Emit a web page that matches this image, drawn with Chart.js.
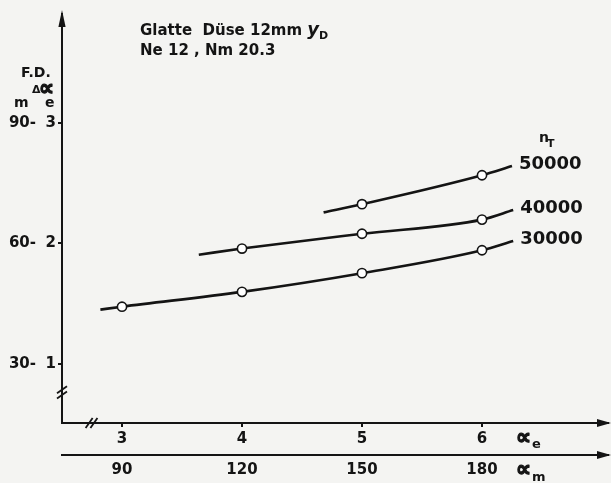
<!DOCTYPE html>
<html>
<head>
<meta charset="utf-8">
<script src="https://cdn.jsdelivr.net/npm/chart.js@4/dist/chart.umd.min.js"></script>
<style>
  html, body { margin: 0; padding: 0; background: #f4f4f2; }
  #wrap { width: 611px; height: 483px; }
</style>
</head>
<body>
<div id="wrap"><canvas id="c" width="611" height="483"></canvas></div>
<script>
// Tick values: α_e and α_m (= 30·α_e) horizontally, Δα_e and F.D. (= 30·Δα_e) vertically
const ticksAlphaE = [3, 4, 5, 6];
const ticksAlphaM = [90, 120, 150, 180];
const ticksDeltaE = [1, 2, 3];
const ticksFD = [30, 60, 90];

// Spindle speeds n_T
const speeds = ['30000', '40000', '50000'];

// Curve points (α_e, Δα_e); circles mark the measured α_e values 3…6
const alpha30 = [2.82, 3, 4, 5, 6, 6.26];
const delta30 = [1.45, 1.474, 1.597, 1.752, 1.942, 2.019];
const alpha40 = [3.64, 4, 5, 6, 6.26];
const delta40 = [1.905, 1.956, 2.079, 2.196, 2.275];
const alpha50 = [4.68, 5, 6, 6.25];
const delta50 = [2.256, 2.324, 2.564, 2.64];

const INK = '#141414';
const FONT = 'DejaVu Sans';

function pts(xs, ys) { return xs.map((x, i) => ({ x: x, y: ys[i] })); }

function curve(label, xs, ys) {
  return {
    label: label,
    data: pts(xs, ys),
    showLine: true,
    borderColor: INK,
    borderWidth: 2.6,
    cubicInterpolationMode: 'monotone',
    pointRadius: ctx => ticksAlphaE.includes(ctx.raw && ctx.raw.x) ? 4.6 : 0,
    pointBackgroundColor: '#ffffff',
    pointBorderColor: INK,
    pointBorderWidth: 1.6,
    pointHoverRadius: 0
  };
}

const tickFont = { family: FONT, weight: 'bold', size: 15 };

const paper = {
  id: 'paper',
  beforeDraw(chart) {
    const ctx = chart.ctx;
    ctx.save();
    ctx.fillStyle = '#f4f4f2';
    ctx.fillRect(0, 0, chart.width, chart.height);
    ctx.restore();
  }
};

// Axis arrows, axis breaks and all free text
const annotate = {
  id: 'annotate',
  afterDraw(chart) {
    const ctx = chart.ctx;
    const a = chart.chartArea;
    const sx = chart.scales.x, sm = chart.scales.xm, sy = chart.scales.y;
    ctx.save();
    ctx.fillStyle = INK;
    ctx.strokeStyle = INK;

    function tri(p1, p2, p3) {
      ctx.beginPath();
      ctx.moveTo(p1[0], p1[1]); ctx.lineTo(p2[0], p2[1]); ctx.lineTo(p3[0], p3[1]);
      ctx.closePath(); ctx.fill();
    }
    // arrow heads
    tri([a.left, a.top - 4], [a.left - 3.6, a.top + 13], [a.left + 3.6, a.top + 13]);
    tri([a.right + 3, a.bottom], [a.right - 11, a.bottom - 4], [a.right - 11, a.bottom + 4]);
    tri([a.right + 3, sm.top], [a.right - 11, sm.top - 4], [a.right - 11, sm.top + 4]);

    // axis breaks
    ctx.lineWidth = 1.8;
    const yb = sy.getPixelForValue(0.763);
    [-2.6, 2.6].forEach(d => {
      ctx.beginPath();
      ctx.moveTo(a.left - 5, yb + d + 3.5);
      ctx.lineTo(a.left + 5, yb + d - 3.5);
      ctx.stroke();
    });
    const xb = sx.getPixelForValue(2.746);
    [-2.4, 2.4].forEach(d => {
      ctx.beginPath();
      ctx.moveTo(xb + d - 3.5, a.bottom + 5);
      ctx.lineTo(xb + d + 3.5, a.bottom - 5);
      ctx.stroke();
    });

    function txt(s, x, y, size, style) {
      ctx.font = (style || 'bold') + ' ' + size + 'px "' + FONT + '"';
      ctx.textAlign = 'left';
      ctx.textBaseline = 'alphabetic';
      ctx.fillText(s, x, y);
      return ctx.measureText(s).width;
    }
    // the alpha sign, drawn heavier than the font gives it
    function alpha(x, y) {
      ctx.font = 'bold 21px "' + FONT + '"';
      ctx.textAlign = 'left';
      ctx.textBaseline = 'alphabetic';
      ctx.lineWidth = 1.3;
      ctx.lineJoin = 'round';
      ctx.strokeText('∝', x, y);
      ctx.fillText('∝', x, y);
    }

    // heading
    let w = txt('Glatte  Düse 12mm ', 140, 35, 15);
    w += txt('y', 140 + w, 35, 18, 'italic bold');
    txt('D', 140 + w, 39, 11);
    txt('Ne 12 , Nm 20.3', 140, 55, 15);

    // vertical axis titles
    txt('F.D.', 21, 77, 14);
    txt('Δ', 32, 93, 11);
    alpha(39, 95);
    txt('m', 14, 107, 14);
    txt('e', 45, 107, 14);

    // horizontal axis titles
    const xt = sx.getPixelForValue(6) + 34;
    alpha(xt, 444);
    txt('e', xt + 16, 448, 13);
    alpha(xt, 476);
    txt('m', xt + 16, 481, 13);

    // speed labels at the curve ends
    chart.data.datasets.forEach((ds, i) => {
      const meta = chart.getDatasetMeta(i);
      const last = meta.data[meta.data.length - 1];
      txt(ds.label, last.x + 7, last.y + 3, 18);
    });
    const top = chart.getDatasetMeta(2).data;
    const e = top[top.length - 1];
    txt('n', e.x + 27, e.y - 24, 14);
    txt('T', e.x + 35, e.y - 19, 11);

    ctx.restore();
  }
};

new Chart(document.getElementById('c'), {
  type: 'scatter',
  data: {
    datasets: [
      curve(speeds[0], alpha30, delta30),
      curve(speeds[1], alpha40, delta40),
      curve(speeds[2], alpha50, delta50)
    ]
  },
  options: {
    responsive: false,
    animation: false,
    devicePixelRatio: 1,
    layout: { padding: { top: 8, right: 3, left: 0, bottom: 0 } },
    plugins: { legend: { display: false }, tooltip: { enabled: false } },
    events: [],
    scales: {
      x: {
        type: 'linear', position: 'bottom', weight: 0,
        min: 2.5, max: 7.05,
        afterBuildTicks: s => { s.ticks = ticksAlphaE.map(v => ({ value: v })); },
        afterFit: s => { s.height = 32; },
        grid: { drawOnChartArea: false, drawTicks: true, tickLength: 4, color: INK, lineWidth: 2 },
        border: { display: true, color: INK, width: 2 },
        ticks: { color: INK, font: tickFont, padding: 3, maxRotation: 0, autoSkip: false }
      },
      xm: {
        type: 'linear', position: 'bottom', weight: 1,
        min: 75, max: 211.5,
        afterBuildTicks: s => { s.ticks = ticksAlphaM.map(v => ({ value: v })); },
        afterFit: s => { s.height = 28; },
        grid: { display: false, drawTicks: false },
        border: { display: true, color: INK, width: 2 },
        ticks: { color: INK, font: tickFont, padding: 6, maxRotation: 0, autoSkip: false }
      },
      y: {
        type: 'linear', position: 'left', weight: 0,
        min: 0.5096, max: 3.901,
        afterBuildTicks: s => { s.ticks = ticksDeltaE.map(v => ({ value: v })); },
        afterFit: s => { s.width = 21; },
        grid: { drawOnChartArea: false, drawTicks: true, tickLength: 4, color: INK, lineWidth: 2 },
        border: { display: true, color: INK, width: 2 },
        ticks: { color: INK, font: tickFont, padding: 2, autoSkip: false }
      },
      yfd: {
        type: 'linear', position: 'left', weight: 1,
        min: 15.29, max: 117.03,
        afterBuildTicks: s => { s.ticks = ticksFD.map(v => ({ value: v })); },
        afterFit: s => { s.width = 41; },
        grid: { display: false, drawTicks: false },
        border: { display: false },
        ticks: { color: INK, font: tickFont, padding: 5, autoSkip: false, callback: v => v + '-' }
      }
    }
  },
  plugins: [paper, annotate]
});
</script>
</body>
</html>
